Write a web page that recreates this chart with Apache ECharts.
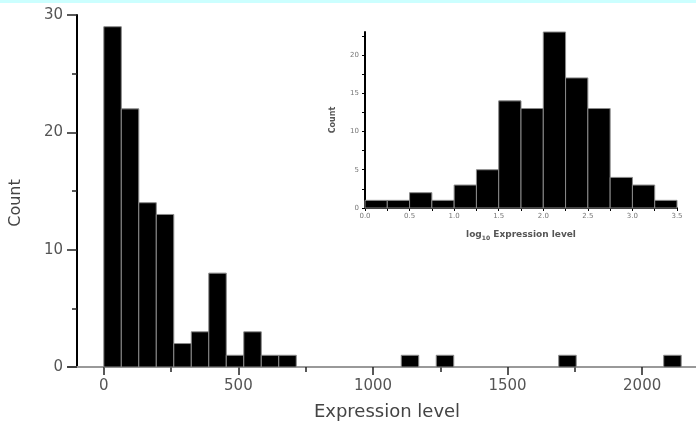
<!DOCTYPE html>
<html>
<head>
<meta charset="utf-8">
<script src="https://cdn.jsdelivr.net/npm/echarts@6/dist/echarts.min.js"></script>
<style>
  body { margin: 0; background: #fff; }
  #wrap { position: relative; width: 696px; height: 422px; }
  #chart { width: 696px; height: 422px; }
  #band { position: absolute; left: 0; top: 0; width: 696px; height: 3px; background: #ccffff; }
</style>
</head>
<body>
<div id="wrap">
  <div id="chart"></div>
  <div id="band"></div>
</div>
<script>
  // main histogram: bin width 65, counts per bin starting at 0
  const mainBinWidth = 65
  const mainCounts = [29, 22, 14, 13, 2, 3, 8, 1, 3, 1, 1, 0, 0, 0, 0, 0, 0, 1, 0, 1, 0, 0, 0, 0, 0, 0, 1, 0, 0, 0, 0, 0, 1]
  const mainXLabels = [0, 500, 1000, 1500, 2000]
  const mainXMinor = [250, 750, 1250, 1750]

  // inset: log10 expression, bin width 0.25
  const insetBinWidth = 0.25
  const insetCounts = [1, 1, 2, 1, 3, 5, 14, 13, 23, 17, 13, 4, 3, 1]
  const insetXLabels = [0, 0.5, 1, 1.5, 2, 2.5, 3, 3.5]
  const insetXTicks = [0, 0.25, 0.5, 0.75, 1, 1.25, 1.5, 1.75, 2, 2.25, 2.5, 2.75, 3, 3.25, 3.5]
  const insetYLabels = [0, 5, 10, 15, 20]
  const insetYTicks = [0, 2.5, 5, 7.5, 10, 12.5, 15, 17.5, 20, 22.5]

  const font = 'DejaVu Sans'

  function toBins(counts, w) {
    return counts.map((c, i) => [i * w, (i + 1) * w, c])
  }

  function renderBar(params, api) {
    const c = api.value(2)
    if (!c) return null
    const p0 = api.coord([api.value(0), c])
    const p1 = api.coord([api.value(1), 0])
    return {
      type: 'rect',
      shape: { x: p0[0], y: p0[1], width: p1[0] - p0[0], height: p1[1] - p0[1] },
      style: { fill: '#000', stroke: '#8a8a8a', lineWidth: 1 }
    }
  }

  const chart = echarts.init(document.getElementById('chart'))
  chart.setOption({
    animation: false,
    textStyle: { fontFamily: font },
    grid: [
      { left: 68, right: 0, top: 15, bottom: 55, outerBoundsMode: 'none' },
      { left: 365, right: 19, top: 32, bottom: 214, outerBoundsMode: 'none' }
    ],
    xAxis: [
      {
        gridIndex: 0,
        type: 'value',
        position: 'bottom',
        min: -133,
        max: 2200,
        name: 'Expression level',
        nameLocation: 'middle',
        nameGap: 36,
        nameTextStyle: { fontSize: 18, color: '#444', fontFamily: font, padding: [0, 0, 0, 10] },
        splitLine: { show: false },
        axisLine: { onZero: false, lineStyle: { color: '#999', width: 2 } },
        axisTick: { customValues: mainXLabels, length: 8, lineStyle: { color: '#222', width: 1.5 } },
        axisLabel: { customValues: mainXLabels, fontSize: 15, color: '#555', margin: 12, formatter: (v) => String(v) }
      },
      {
        gridIndex: 0,
        type: 'value',
        position: 'bottom',
        min: -133,
        max: 2200,
        splitLine: { show: false },
        axisLine: { show: false, onZero: false },
        axisTick: { customValues: mainXMinor, length: 5, lineStyle: { color: '#222', width: 1.5 } },
        axisLabel: { show: false }
      },
      {
        gridIndex: 1,
        type: 'value',
        position: 'bottom',
        min: 0,
        max: 3.5,
        name: '{a|log}{s|10}{a| Expression level}',
        nameLocation: 'middle',
        nameGap: 21,
        nameTextStyle: {
          rich: {
            a: { fontSize: 9, fontWeight: 'bold', color: '#555', fontFamily: font },
            s: { fontSize: 6, fontWeight: 'bold', color: '#555', fontFamily: font, verticalAlign: 'bottom', padding: [6, 0, 0, 0] }
          }
        },
        splitLine: { show: false },
        axisLine: { onZero: false, lineStyle: { color: '#000', width: 2 } },
        axisTick: { customValues: insetXTicks, length: 3, lineStyle: { color: '#000' } },
        axisLabel: {
          customValues: insetXLabels,
          fontSize: 7,
          color: '#777',
          margin: 5,
          formatter: (v) => v.toFixed(1)
        }
      }
    ],
    yAxis: [
      {
        gridIndex: 0,
        type: 'value',
        position: 'left',
        min: 0,
        max: 30,
        interval: 10,
        offset: -9,
        splitLine: { show: false },
        axisLine: { show: true, onZero: false, lineStyle: { color: '#000', width: 2 } },
        axisTick: { show: true, length: 10, lineStyle: { color: '#222', width: 1.5 } },
        minorTick: { show: true, splitNumber: 2, length: 5, lineStyle: { color: '#222', width: 1.5 } },
        axisLabel: { fontSize: 15, color: '#555', margin: 14 }
      },
      {
        gridIndex: 1,
        type: 'value',
        position: 'left',
        min: 0,
        max: 23,
        name: 'Count',
        nameLocation: 'middle',
        nameGap: 28,
        nameTextStyle: { fontSize: 8, fontWeight: 'bold', color: '#555', fontFamily: font },
        splitLine: { show: false },
        axisLine: { show: true, onZero: false, lineStyle: { color: '#000', width: 2 } },
        axisTick: { show: true, customValues: insetYTicks, length: 3, lineStyle: { color: '#000' } },
        axisLabel: { customValues: insetYLabels, fontSize: 7, color: '#777', margin: 6 }
      }
    ],
    graphic: [
      {
        type: 'text',
        x: 16,
        y: 203,
        rotation: Math.PI / 2,
        style: {
          text: 'Count',
          fontSize: 16,
          fontFamily: font,
          fill: '#444',
          align: 'center',
          verticalAlign: 'middle'
        }
      }
    ],
    series: [
      {
        type: 'custom',
        xAxisIndex: 0,
        yAxisIndex: 0,
        renderItem: renderBar,
        encode: { x: [0, 1], y: 2 },
        data: toBins(mainCounts, mainBinWidth)
      },
      {
        type: 'custom',
        xAxisIndex: 2,
        yAxisIndex: 1,
        renderItem: renderBar,
        encode: { x: [0, 1], y: 2 },
        data: toBins(insetCounts, insetBinWidth)
      }
    ]
  })
</script>
</body>
</html>
